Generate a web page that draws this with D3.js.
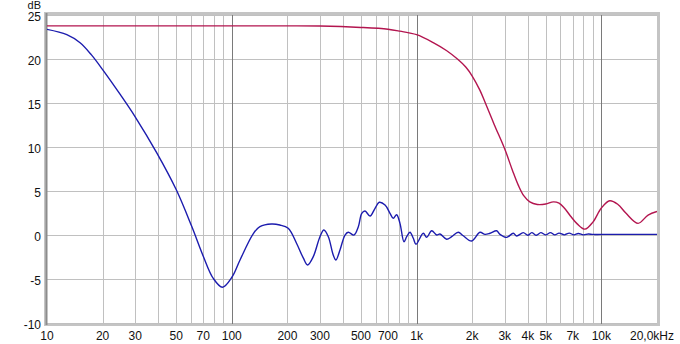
<!DOCTYPE html>
<html>
<head>
<meta charset="utf-8">
<script src="https://cdn.jsdelivr.net/npm/d3@7.9.0/dist/d3.min.js"></script>
<style>
  body { margin: 0; background: #fff; }
  svg { display: block; font-family: "Liberation Sans", Arial, sans-serif; font-size: 12px; }
</style>
</head>
<body>
<svg id="chart" width="680" height="344"></svg>
<script>
// frequency (Hz) and level (dB) of the red curve
const redFreq = [10, 100, 200, 300, 500, 700, 812, 1000, 1230, 1450, 1670, 1850, 2000, 2200, 2350, 2630, 3000,
  3300, 3550, 3800, 4100, 4500, 5000, 5500, 5900, 6300, 6800, 7400, 8150, 9000, 10000, 11100, 12300, 13600,
  15800, 17900, 20000];
const redDb = [23.8, 23.8, 23.8, 23.78, 23.62, 23.42, 23.2, 22.8, 21.9, 21.0, 20.0, 19.1, 18.1, 16.5, 15.1, 12.6, 9.8,
  7.4, 5.7, 4.5, 3.8, 3.5, 3.55, 3.8, 3.65, 3.1, 2.2, 1.3, 0.7, 1.5, 3.1, 3.93, 3.5, 2.5,
  1.36, 2.3, 2.7];

// frequency (Hz) and level (dB) of the blue curve
const blueFreq = [10, 12.8, 15.1, 17.4, 20, 25, 30, 39.2, 50, 60.6, 70, 79.4, 89, 100.6, 110.8, 130.8,
  142, 164, 182, 202, 224, 244, 257, 276, 300, 315, 333, 354, 366, 385, 410, 427, 458, 484, 505, 526, 560,
  596, 628, 675, 718, 748, 780, 813, 855, 884, 921, 960, 993, 1087, 1134, 1207, 1285, 1339, 1455, 1548,
  1681, 1789, 1987, 2203, 2345, 2496, 2713, 2827, 3073, 3337, 3481, 3780, 4000, 4200, 4450, 4700, 5000,
  5300, 5600, 5900, 6300, 6700, 7100, 7500, 8000, 8500, 9000, 10000, 20000];
const blueDb = [23.4, 22.8, 21.88, 20.5, 18.83, 15.95, 13.47, 9.4, 5.2, 1.05, -2.35, -4.9, -5.9, -4.7, -2.8, 0.2,
  0.98, 1.28, 1.17, 0.8, -0.9, -2.6, -3.38, -2.43, -0.16, 0.6, -0.16, -2.24, -2.8, -1.67, 0.03, 0.34, 0.03, 0.98,
  2.5, 2.76, 2.19, 3.07, 3.75, 3.44, 2.5, 1.93, 2.34, 1.36, -0.73, -0.16, 0.34, -0.34, -1.02, 0.23, -0.23, 0.52,
  0.03, 0.15, -0.45, -0.16, 0.34, -0.05, -0.65, 0.34, 0.11, 0.23, 0.52, 0.11, -0.23, 0.23, -0.08, 0.3, 0.0,
  0.3, 0.0, 0.3, 0.05, 0.3, 0.05, 0.25, 0.05, 0.25, 0.05, 0.2, 0.05, 0.15, 0.1, 0.1, 0.1];

// axis ticks
const minorFreqs = [20, 30, 40, 50, 60, 70, 80, 90, 200, 300, 400, 500, 600, 700, 800, 900,
  2000, 3000, 4000, 5000, 6000, 7000, 8000, 9000];
const decadeFreqs = [100, 1000, 10000];
const xLabelFreqs = [10, 20, 30, 50, 70, 100, 200, 300, 500, 700, 1000, 2000, 3000, 4000, 5000, 7000, 10000];
const xLabels = ["10", "20", "30", "50", "70", "100", "200", "300", "500", "700", "1k", "2k", "3k", "4k", "5k", "7k", "10k"];
const yTicks = [-10, -5, 0, 5, 10, 15, 20, 25];

const svg = d3.select("#chart");
const x = d3.scaleLog().domain([10, 20000]).range([47, 657]);
const y = d3.scaleLinear().domain([-10, 25]).range([323.3, 15.3]);

// frame
svg.append("rect")
  .attr("x", 45.5).attr("y", 13.5).attr("width", 613).attr("height", 311)
  .attr("fill", "#fff").attr("stroke", "#c4c4c4").attr("stroke-width", 3);

svg.append("clipPath").attr("id", "clip")
  .append("rect").attr("x", 47).attr("y", 15).attr("width", 610).attr("height", 309);

const grid = svg.append("g").attr("clip-path", "url(#clip)");
grid.selectAll("line.h").data(yTicks).join("line")
  .attr("x1", 47).attr("x2", 657)
  .attr("y1", d => Math.round(y(d)) + 0.5).attr("y2", d => Math.round(y(d)) + 0.5)
  .attr("stroke", "#c0c0c0");
grid.selectAll("line.m").data(minorFreqs).join("line")
  .attr("x1", d => Math.round(x(d)) + 0.5).attr("x2", d => Math.round(x(d)) + 0.5)
  .attr("y1", 15).attr("y2", 324)
  .attr("stroke", "#c0c0c0");
grid.selectAll("line.d").data(decadeFreqs).join("line")
  .attr("x1", d => Math.round(x(d)) + 0.5).attr("x2", d => Math.round(x(d)) + 0.5)
  .attr("y1", 15).attr("y2", 324)
  .attr("stroke", "#7a7a7a");

// left edge darker
svg.append("line").attr("x1", 46.5).attr("x2", 46.5).attr("y1", 13).attr("y2", 325)
  .attr("stroke", "#8c8c8c").attr("stroke-width", 2);

const line = d3.line()
  .x(d => x(d[0])).y(d => y(d[1]))
  .curve(d3.curveCatmullRom.alpha(0.5));

const plot = svg.append("g").attr("clip-path", "url(#clip)");
plot.append("path")
  .attr("d", line(d3.zip(blueFreq, blueDb)))
  .attr("fill", "none").attr("stroke", "#1c1cae").attr("stroke-width", 1.4);
plot.append("path")
  .attr("d", line(d3.zip(redFreq, redDb)))
  .attr("fill", "none").attr("stroke", "#b3154f").attr("stroke-width", 1.4);

// y labels
svg.selectAll("text.y").data(yTicks).join("text")
  .attr("x", 41).attr("y", d => y(d) + 5.5)
  .attr("text-anchor", "end").attr("fill", "#111")
  .text(d => d);
svg.append("text").attr("x", 41).attr("y", 9).attr("text-anchor", "end").attr("fill", "#111")
  .style("font-size", "11px").text("dB");

// x labels
svg.selectAll("text.x").data(xLabelFreqs).join("text")
  .attr("x", d => x(d)).attr("y", 340)
  .attr("text-anchor", "middle").attr("fill", "#111")
  .text((d, i) => xLabels[i]);
svg.append("text").attr("x", 674).attr("y", 340).attr("text-anchor", "end").attr("fill", "#111").text("20,0kHz");
</script>
</body>
</html>
